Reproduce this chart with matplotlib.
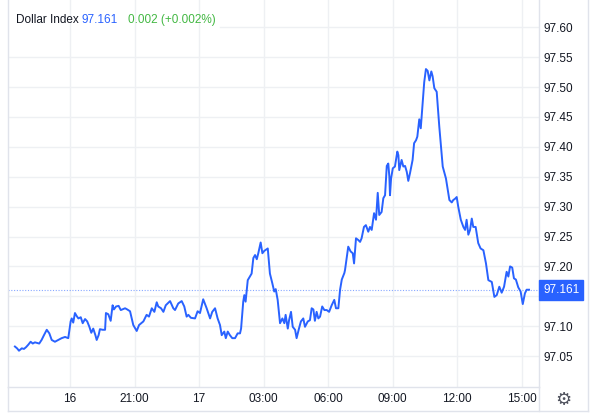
import matplotlib
matplotlib.use("Agg")
import matplotlib.pyplot as plt
from matplotlib.lines import Line2D
import matplotlib.transforms as mtransforms

# ---- data (hours relative to the "16" tick, price) ----
hours = [-2.56, -2.46, -2.37, -2.24, -2.14, -2.04, -1.94, -1.83, -1.73, -1.63,
         -1.43, -1.32, -1.21, -1.08, -0.96, -0.85, -0.70, -0.54, -0.39, -0.23,
         -0.08, 0.03, 0.08, 0.15, 0.23, 0.31, 0.39, 0.50, 0.59, 0.70,
         0.80, 0.90, 0.99, 1.08, 1.18, 1.24, 1.33, 1.39, 1.52, 1.63,
         1.67, 1.78, 1.89, 1.98, 2.04, 2.14, 2.26, 2.36, 2.56, 2.66,
         2.79, 2.94, 3.10, 3.21, 3.41, 3.56, 3.67, 3.80, 3.92, 4.03,
         4.10, 4.23, 4.34, 4.45, 4.65, 4.80, 4.88, 5.03, 5.19, 5.31,
         5.42, 5.50, 5.62, 5.81, 5.93, 6.04, 6.19, 6.35, 6.51, 6.61,
         6.74, 6.86, 6.97, 7.05, 7.17, 7.24, 7.33, 7.43, 7.54, 7.67,
         7.79, 7.90, 7.95, 8.05, 8.10, 8.16, 8.26, 8.36, 8.44, 8.52,
         8.60, 8.68, 8.75, 8.86, 8.94, 9.03, 9.19, 9.29, 9.40, 9.49,
         9.56, 9.65, 9.76, 9.87, 9.96, 10.02, 10.12, 10.18, 10.27, 10.35,
         10.46, 10.53, 10.64, 10.73, 10.84, 10.92, 11.05, 11.15, 11.23, 11.31,
         11.38, 11.46, 11.54, 11.62, 11.72, 11.82, 11.93, 12.04, 12.16, 12.28,
         12.36, 12.47, 12.55, 12.63, 12.75, 12.78, 12.93, 13.04, 13.14, 13.20,
         13.29, 13.40, 13.48, 13.55, 13.66, 13.75, 13.86, 13.94, 14.02, 14.13,
         14.22, 14.30, 14.37, 14.48, 14.56, 14.64, 14.72, 14.79, 14.84, 14.87,
         14.92, 15.00, 15.10, 15.15, 15.21, 15.26, 15.30, 15.41, 15.49, 15.57,
         15.65, 15.72, 15.80, 15.92, 15.99, 16.08, 16.14, 16.23, 16.30, 16.39,
         16.46, 16.54, 16.62, 16.70, 16.79, 16.85, 16.93, 17.04, 17.16, 17.32,
         17.47, 17.63, 17.74, 17.81, 17.89, 17.97, 18.04, 18.16, 18.28, 18.36,
         18.43, 18.51, 18.59, 18.67, 18.74, 18.85, 18.97, 19.08, 19.21, 19.33,
         19.44, 19.60, 19.72, 19.83, 19.95, 20.06, 20.17, 20.29, 20.37, 20.45,
         20.55, 20.63, 20.72, 20.83, 20.94, 21.04, 21.14, 21.22, 21.33]
prices = [97.066, 97.063, 97.059, 97.063, 97.062, 97.065, 97.069, 97.074, 97.071, 97.073,
          97.071, 97.077, 97.085, 97.094, 97.088, 97.077, 97.074, 97.077, 97.080, 97.082,
          97.080, 97.108, 97.113, 97.106, 97.122, 97.117, 97.113, 97.115, 97.105, 97.112,
          97.108, 97.099, 97.089, 97.096, 97.085, 97.077, 97.085, 97.095, 97.094, 97.094,
          97.122, 97.120, 97.109, 97.135, 97.128, 97.133, 97.134, 97.127, 97.130, 97.128,
          97.125, 97.102, 97.092, 97.102, 97.108, 97.119, 97.116, 97.130, 97.124, 97.140,
          97.133, 97.130, 97.124, 97.135, 97.142, 97.130, 97.127, 97.138, 97.142, 97.133,
          97.116, 97.119, 97.114, 97.113, 97.125, 97.122, 97.145, 97.130, 97.113, 97.124,
          97.130, 97.113, 97.102, 97.085, 97.091, 97.080, 97.091, 97.085, 97.080, 97.080,
          97.088, 97.088, 97.096, 97.141, 97.152, 97.141, 97.177, 97.183, 97.188, 97.214,
          97.219, 97.212, 97.222, 97.240, 97.222, 97.226, 97.230, 97.188, 97.172, 97.158,
          97.162, 97.144, 97.105, 97.113, 97.105, 97.119, 97.096, 97.110, 97.124, 97.099,
          97.094, 97.080, 97.096, 97.108, 97.113, 97.099, 97.108, 97.110, 97.130, 97.128,
          97.109, 97.124, 97.113, 97.116, 97.133, 97.127, 97.127, 97.124, 97.135, 97.144,
          97.130, 97.130, 97.161, 97.178, 97.189, 97.194, 97.233, 97.225, 97.222, 97.205,
          97.247, 97.244, 97.241, 97.247, 97.266, 97.269, 97.258, 97.266, 97.261, 97.289,
          97.278, 97.323, 97.286, 97.291, 97.314, 97.319, 97.368, 97.372, 97.350, 97.319,
          97.347, 97.364, 97.367, 97.378, 97.392, 97.386, 97.361, 97.378, 97.367, 97.368,
          97.358, 97.343, 97.356, 97.378, 97.406, 97.411, 97.417, 97.446, 97.431, 97.473,
          97.508, 97.530, 97.527, 97.511, 97.526, 97.518, 97.498, 97.492, 97.434, 97.367,
          97.347, 97.311, 97.307, 97.311, 97.313, 97.316, 97.300, 97.278, 97.266, 97.261,
          97.278, 97.253, 97.261, 97.280, 97.266, 97.266, 97.239, 97.230, 97.227, 97.205,
          97.177, 97.174, 97.149, 97.152, 97.166, 97.156, 97.166, 97.191, 97.183, 97.200,
          97.198, 97.180, 97.178, 97.165, 97.158, 97.137, 97.155, 97.161, 97.161]

x_tick_pos = [0, 3, 6, 9, 12, 15, 18, 21]
x_tick_labels = ["16", "21:00", "17", "03:00", "06:00", "09:00", "12:00", "15:00"]
y_ticks = [97.05, 97.10, 97.15, 97.20, 97.25, 97.30, 97.35, 97.40, 97.45, 97.50, 97.55, 97.60]
y_tick_labels = ["97.05", "97.10", "", "97.20", "97.25", "97.30", "97.35", "97.40",
                 "97.45", "97.50", "97.55", "97.60"]
last_price = 97.161
title_name = "Dollar Index"
title_price = "97.161"
title_change = "0.002 (+0.002%)"

# ---- styling ----
BLUE = "#2962ff"
GRID = "#eef0f3"
FRAME = "#e0e3eb"
TXT = "#131722"
FONT = ["Liberation Sans", "DejaVu Sans"]
FS = 8.5

plt.rcParams["font.family"] = FONT

W, H = 600, 413
fig = plt.figure(figsize=(W / 100, H / 100), dpi=100)
fig.patch.set_facecolor("white")

L, R, T, B = 8, 539, 0, 387
ax = fig.add_axes([L / W, (H - B) / H, (R - L) / W, (B - T) / H])

ax.set_xlim(-2.881, 21.794)
ax.set_ylim(97.0 - 1 / 598, 97.0 + 386 / 598)

# grid
for xt in x_tick_pos:
    ax.axvline(xt, color=GRID, lw=1.0, zorder=0)
for yt in y_ticks:
    xmin = (220 - L) / (R - L) if yt >= 97.595 else 0
    ax.axhline(yt, xmin=xmin, color=GRID, lw=1.0, zorder=0)

# last price dotted line
ax.axhline(last_price, color=BLUE, lw=0.8, ls=(0, (1, 1.5)), alpha=0.55, zorder=1)

# main line
ax.plot(hours, prices, color=BLUE, lw=1.4, zorder=3, solid_joinstyle="round")

# ticks
ax.set_xticks(x_tick_pos)
ax.set_xticklabels(x_tick_labels)
ax.set_yticks(y_ticks)
ax.set_yticklabels(y_tick_labels)
ax.yaxis.tick_right()
ax.tick_params(axis="both", length=0, labelsize=FS, labelcolor=TXT)
ax.tick_params(axis="x", pad=4.5)
ax.tick_params(axis="y", pad=3)

ax.spines["top"].set_visible(False)
for s in ["left", "right", "bottom"]:
    ax.spines[s].set_color(FRAME)
    ax.spines[s].set_linewidth(1.0)

# last price label box
trans = mtransforms.blended_transform_factory(ax.transAxes, ax.transData)
ax.text(1.0 + 4 / (R - L), last_price, f"{last_price:.3f}", transform=trans,
        ha="left", va="center", color="white", fontsize=FS, zorder=5,
        bbox=dict(boxstyle="square,pad=0.33", fc=BLUE, ec=BLUE), clip_on=False)

# outer frame lines
def fline(x0, y0, x1, y1):
    fig.add_artist(Line2D([x0 / W, x1 / W], [1 - y0 / H, 1 - y1 / H],
                          color=FRAME, lw=1.0, transform=fig.transFigure))

fline(L, B, L, 411)
fline(L, 411, 588, 411)
fline(588, 0, 588, 411)
fline(R, B, R, 411)

# title
fig.text(16 / W, 1 - 20 / H, title_name, color=TXT, fontsize=FS, va="center", ha="left")
fig.text(82 / W, 1 - 20 / H, title_price, color=BLUE, fontsize=FS, va="center", ha="left")
fig.text(128 / W, 1 - 20 / H, title_change, color="#43b843", fontsize=FS, va="center", ha="left")

# gear icon
fig.text(563 / W, 1 - 400 / H, "\u2699", color="#50535e", fontsize=13,
         va="center", ha="center", family="DejaVu Sans")

fig.savefig("out.png", dpi=100, facecolor="white")
